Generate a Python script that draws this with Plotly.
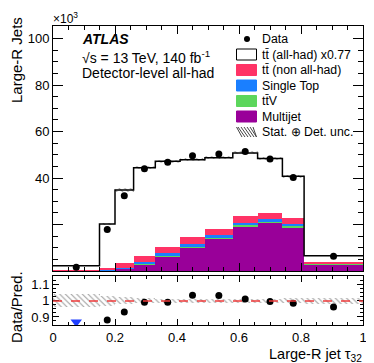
import numpy as np
import plotly.graph_objects as go

# ---- data (values in units of 10^3 large-R jets) ----
bin_edges = [0, 0.15, 0.2, 0.26, 0.33, 0.41, 0.49, 0.58, 0.66, 0.74, 0.81, 1.0]
multijet = [0.1, 0.3, 1.0, 3.0, 6.3, 9.9, 13.8, 19.2, 20.7, 18.8, 3.0]
ttv = [0.0, 0.05, 0.1, 0.2, 0.3, 0.35, 0.4, 0.4, 0.4, 0.35, 0.1]
single_top = [0.02, 0.15, 0.4, 0.8, 1.2, 1.3, 1.3, 1.2, 1.2, 1.1, 0.15]
tt_nonallhad = [0.1, 0.8, 1.9, 2.6, 2.5, 2.95, 2.7, 2.8, 2.8, 2.45, 0.45]
tt_allhad = [2.08, 18.9, 31.4, 37.8, 36.9, 33.4, 30.5, 27.2, 23.3, 18.1, 2.9]
data = [1.6, 17.8, 32.4, 44.0, 46.8, 49.6, 50.3, 51.4, 48.2, 40.2, 6.35]
data_err = [0.1, 0.25, 0.3, 0.3, 0.3, 0.3, 0.3, 0.3, 0.3, 0.3, 0.1]
rel_unc = [0.04, 0.03, 0.022, 0.016, 0.014, 0.013, 0.013, 0.013, 0.014, 0.016, 0.02]

y_ticks = [0, 20, 40, 60, 80, 100]
y_ticklabels = ["", "", "40", "60", "80", "100"]
x_ticks = [0, 0.2, 0.4, 0.6, 0.8, 1.0]
x_ticklabels = ["0", "0.2", "0.4", "0.6", "0.8", "1"]
r_ticks = [0.9, 1.0, 1.1]
r_ticklabels = ["0.9", "1", "1.1"]

FONT = "Liberation Sans, Arial, Helvetica, sans-serif"
C_RED, C_BLUE, C_GREEN, C_PURPLE = "#ff3366", "#1a7fff", "#5cd65c", "#990099"
W, H = 374, 363
L, R, T, B = 45, 19, 18, 46
R_MIN, R_MAX = 0.85, 1.155


def px(x, y):
    """pixel -> paper coords"""
    return (x - L) / (W - L - R), (H - B - y) / (H - T - B)


edges = np.array(bin_edges)
centers = (edges[:-1] + edges[1:]) / 2
widths = edges[1:] - edges[:-1]
stack = [(multijet, C_PURPLE), (ttv, C_GREEN), (single_top, C_BLUE),
         (tt_nonallhad, C_RED), (tt_allhad, "white")]
total = np.sum([np.array(s) for s, _ in stack], axis=0)

fig = go.Figure()
base = np.zeros(len(centers))
for vals, col in stack:
    fig.add_trace(go.Bar(x=centers, y=vals, base=base.copy(), width=widths,
                         marker=dict(color=col, line=dict(width=0)),
                         xaxis="x", yaxis="y"))
    base += np.array(vals)

unc = np.array(rel_unc)
hatch = dict(color="rgba(0,0,0,0)", line=dict(width=0),
             pattern=dict(shape="\\", fgcolor="#333", size=4, solidity=0.25, fillmode="overlay"))
fig.add_trace(go.Bar(x=centers, y=2 * unc * total, base=total * (1 - unc), width=widths,
                     marker=hatch, xaxis="x", yaxis="y"))
fig.add_trace(go.Scatter(x=edges, y=list(total) + [total[-1]], mode="lines", line_shape="hv",
                         line=dict(color="black", width=1.5), xaxis="x", yaxis="y"))
fig.add_trace(go.Scatter(x=centers, y=data, mode="markers",
                         marker=dict(color="black", size=7),
                         error_y=dict(type="data", array=data_err, thickness=1.5, width=0, color="black"),
                         xaxis="x", yaxis="y"))

# ratio panel
ratio = np.array(data) / total
ratio_err = np.array(data_err) / total
inside = (ratio > R_MIN) & (ratio < R_MAX)
fig.add_trace(go.Bar(x=centers, y=2 * unc, base=1 - unc, width=widths,
                     marker=hatch, xaxis="x2", yaxis="y2"))
fig.add_shape(type="line", xref="x2", yref="y2", x0=0, x1=1, y0=1, y1=1,
              line=dict(color="#ee3b3b", width=1.5, dash="dash"))
fig.add_trace(go.Scatter(x=centers[inside], y=ratio[inside], mode="markers",
                         marker=dict(color="black", size=7),
                         error_y=dict(type="data", array=ratio_err[inside], thickness=1.5, width=0, color="black"),
                         xaxis="x2", yaxis="y2"))
fig.add_trace(go.Scatter(x=centers[~inside], y=[R_MIN + 0.018] * int((~inside).sum()), mode="markers",
                         marker=dict(color="#1f3fff", size=10, symbol="triangle-down"),
                         xaxis="x2", yaxis="y2"))

top_dom = [(H - B - 263) / (H - T - B), 1]
bot_dom = [0, (H - B - 268) / (H - T - B)]
ax_common = dict(showline=True, linecolor="black", linewidth=1, mirror="allticks",
                 ticks="inside", tickcolor="black", showgrid=False, zeroline=False)
fig.update_layout(
    width=W, height=H, margin=dict(l=L, r=R, t=T, b=B),
    paper_bgcolor="white", plot_bgcolor="white", showlegend=False,
    barmode="overlay", bargap=0,
    font=dict(family=FONT, color="black", size=13),
    xaxis=dict(domain=[0, 1], range=[0, 1], anchor="y", tickvals=x_ticks, showticklabels=False,
               ticklen=8, minor=dict(ticks="inside", dtick=0.05, ticklen=4, tickcolor="black"), **ax_common),
    yaxis=dict(domain=top_dom, range=[0, 105.4], anchor="x", tickvals=y_ticks, ticktext=y_ticklabels,
               ticklen=10, tickfont=dict(size=13),
               minor=dict(ticks="inside", dtick=5, ticklen=5, tickcolor="black"), **ax_common),
    xaxis2=dict(domain=[0, 1], range=[0, 1], anchor="y2", tickvals=x_ticks, ticktext=x_ticklabels,
                ticklen=6, tickfont=dict(size=13),
                minor=dict(ticks="inside", dtick=0.05, ticklen=3, tickcolor="black"), **ax_common),
    yaxis2=dict(domain=bot_dom, range=[R_MIN, R_MAX], anchor="x2", tickvals=r_ticks, ticktext=r_ticklabels,
                ticklen=6, tickfont=dict(size=13),
                minor=dict(ticks="inside", dtick=0.025, ticklen=3, tickcolor="black"), **ax_common),
)


def text(x, y, s, size=14, xanchor="left", angle=0, **kw):
    xp, yp = px(x, y)
    fig.add_annotation(x=xp, y=yp, xref="paper", yref="paper", text=s, showarrow=False,
                       xanchor=xanchor, yanchor="middle", textangle=angle,
                       font=dict(family=FONT, size=size, color="black"), **kw)


text(43, 10, "×10<sup>3</sup>", size=12)
text(72, 31, "<b><i>ATLAS</i></b>", size=14)
text(72, 49, "√s = 13 TeV, 140 fb<sup>-1</sup>", size=14)
text(72, 65, "Detector-level all-had", size=14)
text(8, 52, "Large-R Jets", size=15, xanchor="center", angle=-90)
text(8, 299, "Data/Pred.", size=15, xanchor="center", angle=-90)
text(356, 347, "Large-R jet τ<sub>32</sub>", size=14.5, xanchor="right")

# legend drawn by hand
leg_rows = [31, 46.5, 62, 77.5, 93, 108.5, 124]
leg_labels = ["Data", "tt\u0304 (all-had) x0.77", "tt\u0304 (non all-had)", "Single Top",
              "tt\u0304V", "Multijet", "Stat. ⊕ Det. unc."]
leg_fill = [None, "white", C_RED, C_BLUE, C_GREEN, C_PURPLE, None]
for yrow, lab, col in zip(leg_rows, leg_labels, leg_fill):
    text(252, yrow, lab, size=12.3)
    x0, y0 = px(228.5, yrow - 5.5)
    x1, y1 = px(248.5, yrow + 5.5)
    if col is not None:
        fig.add_shape(type="rect", xref="paper", yref="paper", x0=x0, x1=x1, y0=y0, y1=y1,
                      fillcolor=col, line=dict(color="black" if col == "white" else col, width=1))
cx0, cy0 = px(236, leg_rows[0] - 3)
cx1, cy1 = px(242, leg_rows[0] + 3)
fig.add_shape(type="circle", xref="paper", yref="paper", x0=cx0, x1=cx1, y0=cy0, y1=cy1,
              fillcolor="black", line=dict(color="black", width=0))
yh = leg_rows[-1]
for k in range(7):
    xs = 229 + k * 3
    a0, b0 = px(xs - 2, yh - 5)
    a1, b1 = px(xs + 5, yh + 5)
    fig.add_shape(type="line", xref="paper", yref="paper", x0=max(a0, px(228.5, 0)[0]), y0=b0,
                  x1=min(a1, px(248.5, 0)[0]), y1=b1, line=dict(color="#444", width=1))

fig.write_html("out.html")
